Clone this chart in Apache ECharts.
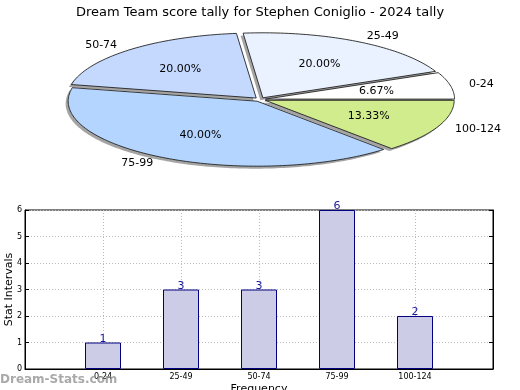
<!DOCTYPE html>
<html>
<head>
<meta charset="utf-8">
<script src="https://cdn.jsdelivr.net/npm/echarts@6/dist/echarts.min.js"></script>
<style>html,body{margin:0;padding:0;background:#fff}#c{width:520px;height:390px}</style>
</head>
<body>
<div id="c"></div>
<script>
var titleText = 'Dream Team score tally for Stephen Coniglio - 2024 tally';
var categories = ['0-24', '25-49', '50-74', '75-99', '100-124'];
var counts = [1, 3, 3, 6, 2];
var yTicks = [0, 1, 2, 3, 4, 5, 6];
var sliceColors = ['#ffffff', '#eaf1ff', '#c5d9ff', '#b3d5ff', '#d1ec8c'];

var total = counts.reduce(function (a, b) { return a + b; }, 0);
var PIE = { cx: 260, cy: 99.5, rx: 189, ry: 65, explode: 0.03 };

function pieRender(params, api) {
  var i = params.dataIndex;
  var v = api.value(0);
  var start = 0;
  for (var k = 0; k < i; k++) start += counts[k];
  var a0 = start / total * 2 * Math.PI;
  var a1 = (start + v) / total * 2 * Math.PI;
  var mid = (a0 + a1) / 2;
  var cx = PIE.cx + PIE.explode * PIE.rx * Math.cos(mid);
  var cy = PIE.cy - PIE.explode * PIE.ry * Math.sin(mid);
  var pts = [[cx, cy]];
  var n = Math.max(8, Math.ceil((a1 - a0) / 0.02));
  for (var j = 0; j <= n; j++) {
    var a = a0 + (a1 - a0) * j / n;
    pts.push([cx + PIE.rx * Math.cos(a), cy - PIE.ry * Math.sin(a)]);
  }
  var shadowPts = pts.map(function (p) { return [p[0] - 2.5, p[1] + 2.5]; });
  var lx = cx + 1.1 * PIE.rx * Math.cos(mid);
  var ly = cy - 1.1 * PIE.ry * Math.sin(mid);
  var px = cx + 0.6 * PIE.rx * Math.cos(mid);
  var py = cy - 0.6 * PIE.ry * Math.sin(mid);
  return {
    type: 'group',
    children: [
      { type: 'polygon', z2: 1, shape: { points: shadowPts },
        style: { fill: 'rgba(90,90,90,0.55)', stroke: null } },
      { type: 'polygon', z2: 10, shape: { points: pts },
        style: { fill: sliceColors[i], stroke: '#222', lineWidth: 0.9 } },
      { type: 'text', z2: 20, x: lx, y: ly,
        style: { text: categories[i], fontSize: 11, fontFamily: 'DejaVu Sans', fill: '#000',
          align: Math.cos(mid) > 0 ? 'left' : 'right', verticalAlign: 'middle' } },
      { type: 'text', z2: 20, x: px, y: py,
        style: { text: (v / total * 100).toFixed(2) + '%', fontSize: 11, fontFamily: 'DejaVu Sans', fill: '#000',
          align: 'center', verticalAlign: 'middle' } }
    ]
  };
}

var xCats = [''].concat(categories).concat(['']);
var barData = [null].concat(counts).concat([null]);

var chart = echarts.init(document.getElementById('c'), null, { renderer: 'canvas' });
chart.setOption({
  animation: false,
  backgroundColor: '#fff',
  textStyle: { fontFamily: 'DejaVu Sans' },
  title: {
    text: titleText, left: 'center', top: 1,
    textStyle: { fontSize: 13, fontWeight: 'normal', color: '#000', fontFamily: 'DejaVu Sans' }
  },
  graphic: [{
    type: 'text', left: 0, top: 374, z: 100,
    style: { text: 'Dream-Stats.com', fontSize: 12, fontWeight: 'bold', fontFamily: 'DejaVu Sans', fill: 'rgba(140,140,140,0.75)' }
  }],
  grid: { left: 25, right: 27, top: 210, bottom: 21, containLabel: false, outerBoundsMode: 'none',
    show: true, borderColor: '#000', borderWidth: 1, backgroundColor: 'transparent' },
  xAxis: {
    type: 'category', data: xCats, boundaryGap: false,
    name: 'Frequency', nameLocation: 'middle', nameGap: 15, nameMoveOverlap: false,
    nameTextStyle: { fontSize: 11, color: '#000' },
    axisLine: { lineStyle: { color: '#000' } },
    axisTick: { inside: true, length: 4, lineStyle: { color: '#000' } },
    axisLabel: { fontSize: 8, color: '#000', margin: 4, interval: 0 },
    splitLine: { show: true, lineStyle: { color: '#bbbbbb', type: [1, 2] } }
  },
  yAxis: [{
    type: 'value', min: 0, max: 6, interval: 1,
    name: 'Stat Intervals', nameLocation: 'middle', nameGap: 10, nameMoveOverlap: false,
    nameTextStyle: { fontSize: 11, color: '#000' },
    axisLine: { show: true, lineStyle: { color: '#000' } },
    axisTick: { show: true, inside: true, length: 4, lineStyle: { color: '#000' } },
    axisLabel: { fontSize: 8, color: '#000', margin: 3,
      formatter: function (v) { return yTicks.indexOf(v) >= 0 ? String(v) : ''; } },
    splitLine: { show: true, lineStyle: { color: '#bbbbbb', type: [1, 2] } }
  }, {
    type: 'value', min: 0, max: 6, interval: 1, position: 'right',
    axisLine: { show: true, lineStyle: { color: '#000' } },
    axisTick: { show: true, inside: true, length: 4, lineStyle: { color: '#000' } },
    axisLabel: { show: false }, splitLine: { show: false }
  }],
  series: [{
    type: 'custom', coordinateSystem: 'none',
    data: counts.map(function (c) { return [c]; }),
    renderItem: pieRender, z: 5
  }, {
    type: 'bar', data: barData, barWidth: 36, z: 3,
    itemStyle: { color: '#ccccE6', borderColor: '#000080', borderWidth: 1 },
    label: { show: true, position: 'top', distance: -2, fontSize: 11, color: '#1a1a9a' }
  }]
});
</script>
</body>
</html>
